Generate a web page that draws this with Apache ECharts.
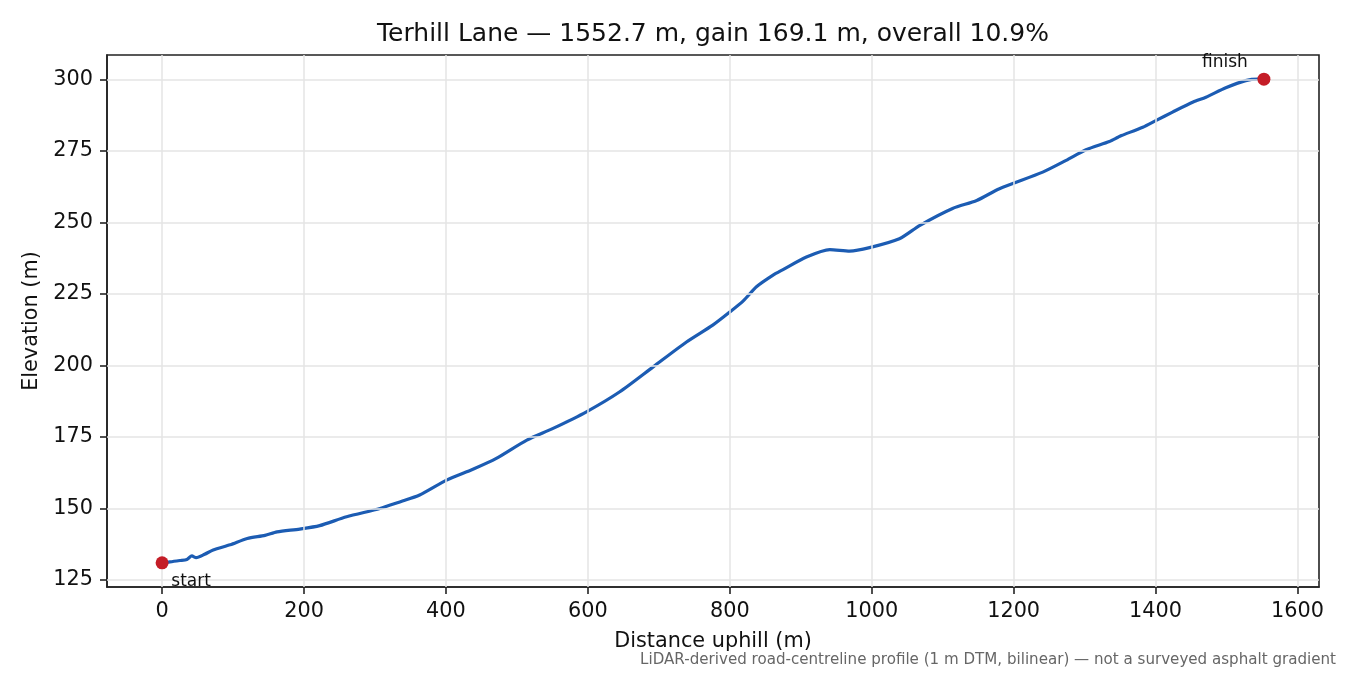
<!DOCTYPE html>
<html>
<head>
<meta charset="utf-8">
<script src="https://cdn.jsdelivr.net/npm/echarts@6/dist/echarts.min.js"></script>
<style>html,body{margin:0;padding:0;background:#fff}#c{width:1350px;height:675px}</style>
</head>
<body>
<div id="c"></div>
<script>
const distance = [0, 11, 25, 35, 42, 48, 60, 72, 96, 120, 145, 162, 194, 222, 260, 307, 335, 363, 401, 438, 471, 514, 551, 598, 645, 692, 739, 776, 800, 819, 838, 861, 875, 908, 941, 969, 997, 1039, 1068, 1114, 1148, 1180, 1241, 1274, 1302, 1335, 1347, 1352, 1382, 1401, 1424, 1453, 1471, 1499, 1527, 1545, 1552.7];
const elevation = [131.0, 131.3, 131.8, 132.2, 133.4, 132.8, 134.0, 135.5, 137.3, 139.5, 140.6, 141.8, 142.8, 144.0, 147.1, 150.0, 152.3, 154.7, 159.9, 163.7, 167.5, 173.9, 178.0, 183.8, 190.8, 199.5, 208.2, 214.1, 218.7, 222.6, 227.6, 231.6, 233.5, 237.9, 240.5, 240.0, 241.2, 244.3, 249.0, 254.9, 257.7, 261.8, 267.6, 271.7, 275.4, 278.3, 279.8, 280.4, 283.3, 285.7, 288.6, 292.1, 293.8, 297.1, 299.6, 300.1, 300.1];
const endpointNames = ['start', 'finish'];
const xTicks = [0, 200, 400, 600, 800, 1000, 1200, 1400, 1600];
const yTicks = [125, 150, 175, 200, 225, 250, 275, 300];
const titleText = 'Terhill Lane \u2014 1552.7 m, gain 169.1 m, overall 10.9%';
const footText = 'LiDAR-derived road-centreline profile (1 m DTM, bilinear) \u2014 not a surveyed asphalt gradient';

const FONT = 'DejaVu Sans';
const lineData = distance.map((d, i) => [d, elevation[i]]);
const n = distance.length - 1;
const endpoints = [
  { name: endpointNames[0], value: [distance[0], elevation[0]],
    label: { show: true, formatter: '{b}', position: 'inside', offset: [29, 19], fontSize: 17, color: '#111', fontFamily: FONT } },
  { name: endpointNames[1], value: [distance[n], elevation[n]],
    label: { show: true, formatter: '{b}', position: 'inside', offset: [-39, -17], fontSize: 17, color: '#111', fontFamily: FONT } }
];
const xMin = distance[0] - 0.05 * (distance[n] - distance[0]);
const xMax = distance[n] + 0.05 * (distance[n] - distance[0]);
const eMin = Math.min(...elevation), eMax = Math.max(...elevation);
const yMin = eMin - 0.05 * (eMax - eMin);
const yMax = eMax + 0.05 * (eMax - eMin);

const gridLines = xTicks.map(v => ({ xAxis: v })).concat(yTicks.map(v => ({ yAxis: v })));

const chart = echarts.init(document.getElementById('c'));
chart.setOption({
  animation: false,
  backgroundColor: '#fff',
  textStyle: { fontFamily: FONT },
  title: [
    { text: titleText, left: 713, top: 22, textAlign: 'center', padding: 0,
      textStyle: { fontSize: 25, fontWeight: 'normal', color: '#111', fontFamily: FONT } },
    { text: footText, right: 14, bottom: 7, padding: 0,
      textStyle: { fontSize: 15.1, fontWeight: 'normal', color: '#666', fontFamily: FONT } }
  ],
  grid: { left: 107, right: 31, top: 55, bottom: 88, show: true, borderColor: '#222', borderWidth: 1.6, backgroundColor: 'transparent' },
  xAxis: {
    type: 'value', min: xMin, max: xMax,
    name: 'Distance uphill (m)', nameLocation: 'middle', nameGap: 44,
    nameTextStyle: { fontSize: 20.8, color: '#111', fontFamily: FONT },
    axisLine: { show: true, onZero: false, lineStyle: { color: '#222', width: 1.6 } },
    axisTick: { show: true, inside: false, length: 7, lineStyle: { color: '#222', width: 1.6 }, customValues: xTicks },
    axisLabel: { fontSize: 20.8, color: '#111', margin: 14, customValues: xTicks, fontFamily: FONT,
      formatter: v => String(Math.round(v)) },
    splitLine: { show: false }
  },
  yAxis: {
    type: 'value', min: yMin, max: yMax,
    name: 'Elevation (m)', nameLocation: 'middle', nameGap: 61, nameRotate: 90,
    nameTextStyle: { fontSize: 20.8, color: '#111', fontFamily: FONT },
    axisLine: { show: true, onZero: false, lineStyle: { color: '#222', width: 1.6 } },
    axisTick: { show: true, inside: false, length: 7, lineStyle: { color: '#222', width: 1.6 }, customValues: yTicks },
    axisLabel: { fontSize: 20.8, color: '#111', margin: 14, customValues: yTicks, fontFamily: FONT,
      formatter: v => String(Math.round(v)) },
    splitLine: { show: false }
  },
  series: [
    { type: 'line', data: [], z: 1, silent: true,
      markLine: { silent: true, symbol: 'none', label: { show: false },
        lineStyle: { color: '#e4e4e4', width: 1.5, type: 'solid' }, data: gridLines, animation: false } },
    { type: 'line', data: lineData, z: 3, showSymbol: false, smooth: 0.25,
      lineStyle: { color: '#1c5cb3', width: 3.2 } },
    { type: 'scatter', data: endpoints, z: 5, symbolSize: 13, itemStyle: { color: '#c41d27', opacity: 1 } }
  ]
});
</script>
</body>
</html>
